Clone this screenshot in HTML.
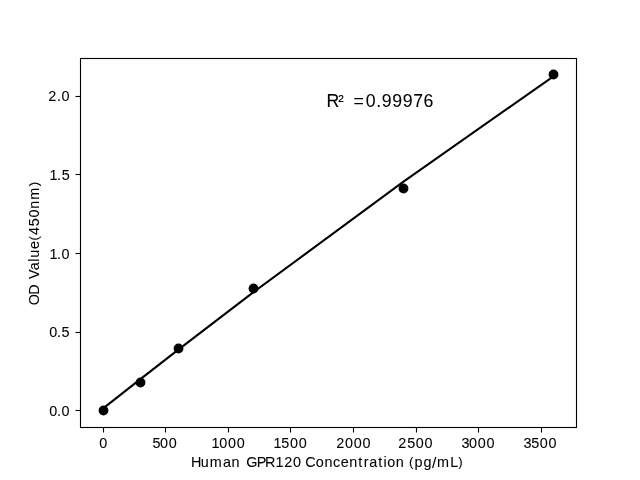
<!DOCTYPE html>
<html>
<head>
<meta charset="utf-8">
<title>Human GPR120 standard curve</title>
<style>
html,body{margin:0;padding:0;background:#fff;}
body{width:640px;height:480px;overflow:hidden;}
svg{display:block;will-change:transform;}
text{font-family:"Liberation Sans",sans-serif;fill:#000;stroke:#000;stroke-width:0.07px;}
</style>
</head>
<body>
<svg width="640" height="480" viewBox="0 0 640 480">
<rect x="0" y="0" width="640" height="480" fill="#fff"/>
<rect x="80.5" y="58.5" width="496" height="369" fill="none" stroke="#000" stroke-width="1.11"/>
<g stroke="#000" stroke-width="1.11">
<line x1="103.5" y1="427" x2="103.5" y2="432.5"/>
<line x1="165.5" y1="427" x2="165.5" y2="432.5"/>
<line x1="228.5" y1="427" x2="228.5" y2="432.5"/>
<line x1="290.5" y1="427" x2="290.5" y2="432.5"/>
<line x1="353.5" y1="427" x2="353.5" y2="432.5"/>
<line x1="416.5" y1="427" x2="416.5" y2="432.5"/>
<line x1="478.5" y1="427" x2="478.5" y2="432.5"/>
<line x1="541.5" y1="427" x2="541.5" y2="432.5"/>
<line x1="75.5" y1="96.5" x2="80" y2="96.5"/>
<line x1="75.5" y1="174.5" x2="80" y2="174.5"/>
<line x1="75.5" y1="253.5" x2="80" y2="253.5"/>
<line x1="75.5" y1="332.5" x2="80" y2="332.5"/>
<line x1="75.5" y1="410.5" x2="80" y2="410.5"/>
</g>
<polyline fill="none" stroke="#000" stroke-width="2.08" stroke-linejoin="round" points="102.55,408.90 140.12,379.34 177.70,350.12 252.85,292.68 403.15,181.82 553.45,76.33"/>
<g fill="#000">
<circle cx="103.5" cy="410.5" r="4.92"/>
<circle cx="140.5" cy="382.5" r="4.92"/>
<circle cx="178.5" cy="348.5" r="4.92"/>
<circle cx="253.5" cy="288.5" r="4.92"/>
<circle cx="403.5" cy="188.5" r="4.92"/>
<circle cx="553.5" cy="74.5" r="4.92"/>
</g>
<text x="99.35" y="448" font-size="14.4">0</text>
<text x="152.41 160.09 168.84" y="448" font-size="14.4">500</text>
<text x="211.43 219.22 227.97 236.71" y="448" font-size="14.4">1000</text>
<text x="273.43 281.30 289.97 298.71" y="448" font-size="14.4">1500</text>
<text x="336.30 345.09 353.84 362.58" y="448" font-size="14.4">2000</text>
<text x="398.30 407.17 415.84 424.58" y="448" font-size="14.4">2500</text>
<text x="461.49 469.09 477.84 486.58" y="448" font-size="14.4">3000</text>
<text x="523.49 531.17 539.84 548.58" y="448" font-size="14.4">3500</text>
<text x="48.30 56.95 61.47" y="101" font-size="14.4">2.0</text>
<text x="49.43 57.05 61.66" y="180" font-size="14.4">1.5</text>
<text x="49.43 57.05 61.58" y="259" font-size="14.4">1.0</text>
<text x="49.35 56.95 61.53" y="337" font-size="14.4">0.5</text>
<text x="49.35 56.95 61.47" y="416" font-size="14.4">0.0</text>
<text x="190.99 200.77 209.79 222.89 231.53 238.86 246.18 256.85 265.12 275.55 284.30 293.09 299.23 305.37 315.83 324.43 332.89 340.83 349.33 358.27 363.69 369.29 378.13 383.43 387.21 395.79 402.42 409.05 414.43 423.50 432.05 437.12 450.21 458.35" y="467 467 467 467 467 467 467 467 467 467 467 467 467 467 467 467 467 467 467 467 467 467 467 467 467 467 467 466.08 467 467 468.14 467 467 466.08" font-size="14.4">Human GPR120 Concentration <tspan font-size="13.28">(</tspan>pg<tspan font-size="15.55">/</tspan>mL<tspan font-size="13.28">)</tspan></text>
<text transform="translate(39.00,320) rotate(-90)" x="14.85 25.15 33.05 40.94 49.66 58.33 62.35 70.96 79.52 84.99 93.79 102.47 111.22 120.26 133.73" y="0 0 0 0 0 0 0 0 -0.92 0 0 0 0 0 -0.92" font-size="14.4">OD Value<tspan font-size="13.28">(</tspan>450nm<tspan font-size="13.28">)</tspan></text>
<text x="326.42 338.20 345.80 353.40 365.87 376.18 381.64 392.14 402.64 413.24 423.51" y="107 106.11 107 107 107 107 107 107 107 107 107" font-size="17.7">R<tspan font-size="16.55">²</tspan> =0.99976</text>
</svg>
</body>
</html>
